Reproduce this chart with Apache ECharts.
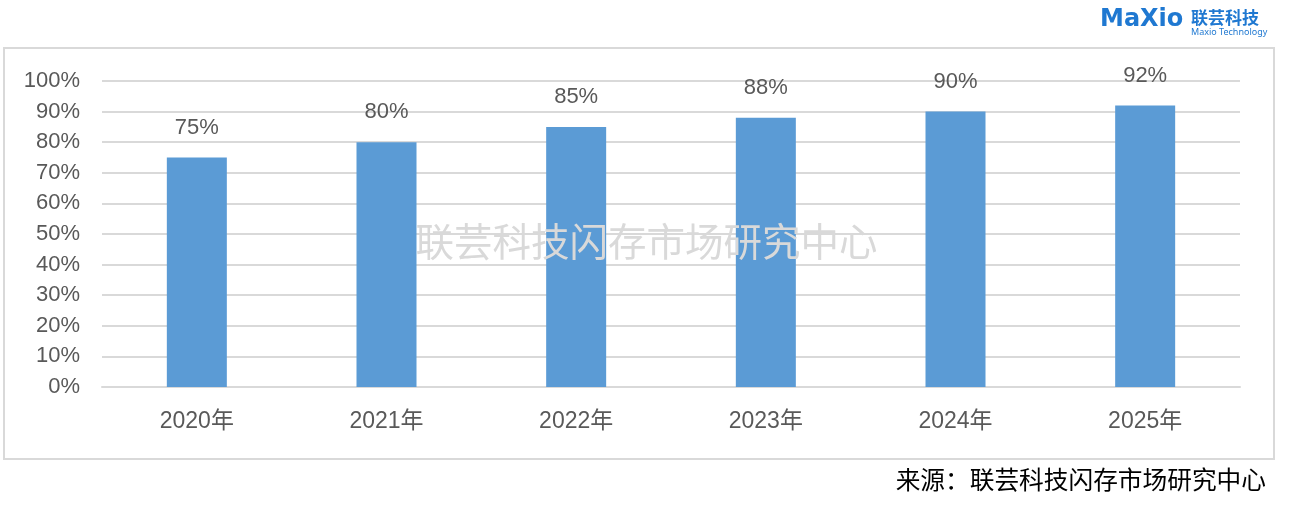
<!DOCTYPE html>
<html><head><meta charset="utf-8">
<script src="https://cdn.jsdelivr.net/npm/echarts@6/dist/echarts.min.js"></script>
<style>html,body{margin:0;padding:0;background:#fff;}#c{width:1293px;height:509px;}</style>
</head><body><div id="c"></div>
<script>
const categories = ['2020年','2021年','2022年','2023年','2024年','2025年'];
const values = [75, 80, 85, 88, 90, 92];
const yTicks = [0,10,20,30,40,50,60,70,80,90,100];

const chart = echarts.init(document.getElementById('c'), null, {renderer:'canvas'});
const numFont = '"Liberation Sans", Arial, "Noto Sans CJK SC", sans-serif';
chart.setOption({
  backgroundColor:'#fff',
  animation:false,
  grid:{left:102, right:53, top:81, bottom:122},
  xAxis:{
    type:'category', data:categories,
    axisLine:{show:true, lineStyle:{color:'#d9d9d9', width:2}},
    axisTick:{show:false},
    axisLabel:{color:'#595959', fontSize:23, margin:23, fontFamily:numFont}
  },
  yAxis:{
    type:'value', min:yTicks[0], max:yTicks[yTicks.length-1], interval:10,
    axisLine:{show:false}, axisTick:{show:false},
    axisLabel:{color:'#595959', fontSize:22, margin:22, formatter:'{value}%', fontFamily:numFont},
    splitLine:{lineStyle:{color:'#d9d9d9', width:2}}
  },
  series:[{
    type:'bar', data:values, barWidth:60,
    itemStyle:{color:'#5b9bd5'},
    label:{show:true, position:'top', distance:19, formatter:'{c}%', color:'#595959', fontSize:22, fontFamily:numFont}
  }],
  graphic:[
    {type:'rect', shape:{x:4, y:48, width:1270, height:411}, style:{fill:'none', stroke:'#d9d9d9', lineWidth:2}, z:-1},
    {type:'text', left:'center', top:222, z:100, style:{text:'联芸科技闪存市场研究中心', fill:'#d9d9d9', fontSize:38.5, fontFamily:'"Noto Sans CJK SC", sans-serif'}},
    {type:'text', right:27, top:467, style:{text:'来源：联芸科技闪存市场研究中心', fill:'#000', fontSize:24.7, fontFamily:'"Noto Sans CJK SC", sans-serif'}},
    {type:'text', left:1100, top:8, style:{text:'MaXio', fill:'#1f78d1', fontSize:24, fontWeight:'bold', fontFamily:'"DejaVu Sans", sans-serif'}},
    {type:'text', left:1191, top:9, style:{text:'联芸科技', fill:'#1f78d1', fontSize:17, fontWeight:'bold', fontFamily:'"Noto Sans CJK SC", sans-serif'}},
    {type:'text', left:1191, top:28, style:{text:'Maxio Technology', fill:'#1f78d1', fontSize:9, fontFamily:'"Noto Sans", sans-serif'}}
  ]
});
</script></body></html>
